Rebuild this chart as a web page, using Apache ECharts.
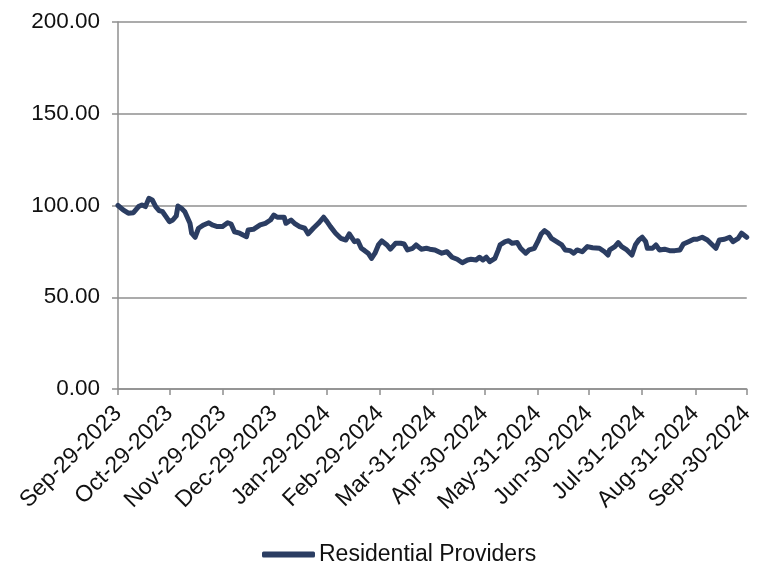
<!DOCTYPE html>
<html>
<head>
<meta charset="utf-8">
<script src="https://cdn.jsdelivr.net/npm/echarts@6/dist/echarts.min.js"></script>
<style>
  html, body { margin: 0; padding: 0; background: #fff; }
  #chart { width: 757px; height: 565px; }
</style>
</head>
<body>
<div id="chart"></div>
<script>
// Index level of the Residential Providers basket (start = 100)
const seriesName = 'Residential Providers';

const dates = [
  '2023-09-29','2023-10-02','2023-10-05','2023-10-08','2023-10-11','2023-10-13','2023-10-15','2023-10-17',
  '2023-10-19','2023-10-21','2023-10-23','2023-10-25','2023-10-27','2023-10-29','2023-10-31','2023-11-02',
  '2023-11-03','2023-11-05','2023-11-07','2023-11-08','2023-11-10','2023-11-11','2023-11-13','2023-11-14',
  '2023-11-15','2023-11-18','2023-11-21','2023-11-23','2023-11-26','2023-11-29','2023-12-02','2023-12-04',
  '2023-12-06','2023-12-09','2023-12-11','2023-12-13','2023-12-14','2023-12-17','2023-12-18','2023-12-21',
  '2023-12-24','2023-12-27','2023-12-29','2023-12-31','2024-01-01','2024-01-04','2024-01-05','2024-01-08',
  '2024-01-10','2024-01-13','2024-01-16','2024-01-18','2024-01-21','2024-01-24','2024-01-27','2024-01-29',
  '2024-01-31','2024-02-03','2024-02-06','2024-02-09','2024-02-11','2024-02-14','2024-02-16','2024-02-18',
  '2024-02-20','2024-02-22','2024-02-24','2024-02-26','2024-02-28','2024-03-01','2024-03-04','2024-03-06',
  '2024-03-09','2024-03-12','2024-03-14','2024-03-16','2024-03-19','2024-03-21','2024-03-24','2024-03-27',
  '2024-03-29','2024-04-01','2024-04-02','2024-04-05','2024-04-08','2024-04-11','2024-04-14','2024-04-17',
  '2024-04-20','2024-04-22','2024-04-25','2024-04-27','2024-04-29','2024-05-01','2024-05-03','2024-05-06',
  '2024-05-08','2024-05-09','2024-05-12','2024-05-14','2024-05-16','2024-05-19','2024-05-21','2024-05-24',
  '2024-05-26','2024-05-29','2024-05-31','2024-06-02','2024-06-04','2024-06-06','2024-06-08','2024-06-11',
  '2024-06-14','2024-06-16','2024-06-19','2024-06-21','2024-06-23','2024-06-26','2024-06-29','2024-07-02',
  '2024-07-06','2024-07-09','2024-07-11','2024-07-12','2024-07-15','2024-07-17','2024-07-19','2024-07-22',
  '2024-07-25','2024-07-27','2024-07-29','2024-07-31','2024-08-02','2024-08-03','2024-08-06','2024-08-08',
  '2024-08-10','2024-08-13','2024-08-16','2024-08-19','2024-08-22','2024-08-24','2024-08-27','2024-08-30',
  '2024-09-01','2024-09-04','2024-09-07','2024-09-10','2024-09-12','2024-09-14','2024-09-17','2024-09-20',
  '2024-09-22','2024-09-25','2024-09-27','2024-09-28','2024-09-30'
];

const values = [
  100.0, 97.6, 95.8, 96.1, 99.4, 100.3, 99.4, 103.9,
  103.0, 99.4, 97.2, 96.6, 93.9, 91.2, 92.1, 94.3,
  99.7, 98.5, 96.6, 95.8, 90.3, 84.9, 82.7, 83.4,
  87.6, 89.4, 90.6, 89.4, 88.5, 88.5, 90.6, 89.9,
  85.7, 84.9, 83.9, 83.0, 86.7, 87.0, 86.7, 89.4,
  90.3, 92.1, 94.8, 93.6, 93.9, 93.6, 90.3, 92.1,
  90.3, 88.5, 87.6, 84.5, 87.6, 90.3, 93.6, 91.2,
  88.5, 84.9, 82.1, 81.2, 84.5, 80.3, 80.8, 76.7,
  75.4, 74.0, 71.2, 74.0, 78.5, 80.7, 78.5, 76.2,
  79.4, 79.4, 79.0, 75.8, 76.7, 78.5, 76.2, 76.7,
  76.2, 75.8, 76.3, 74.0, 74.8, 71.8, 70.7, 68.8,
  70.3, 70.7, 70.3, 71.8, 70.3, 71.8, 69.4, 71.2,
  75.8, 78.5, 80.3, 80.8, 79.4, 79.8, 76.7, 74.0,
  75.8, 76.7, 80.3, 84.5, 86.3, 84.9, 82.1, 80.3,
  78.5, 75.8, 75.4, 74.0, 75.8, 74.8, 77.6, 77.0,
  76.7, 74.8, 73.0, 75.8, 77.6, 79.8, 77.6, 75.8,
  73.0, 78.5, 81.2, 82.7, 80.3, 76.7, 76.7, 78.5,
  75.8, 76.2, 75.4, 75.4, 75.8, 79.0, 80.3, 81.6,
  81.6, 82.7, 81.2, 78.5, 76.7, 81.2, 81.6, 82.7,
  80.3, 82.1, 84.9, 83.9, 82.7
];

// Dates that carry a tick and a label on the horizontal axis
const tickDates = [
  '2023-09-29','2023-10-29','2023-11-29','2023-12-29','2024-01-29','2024-02-29',
  '2024-03-31','2024-04-30','2024-05-31','2024-06-30','2024-07-31','2024-08-31','2024-09-30'
];

const yTicks = [0, 50, 100, 150, 200];

const MONTHS = ['Jan','Feb','Mar','Apr','May','Jun','Jul','Aug','Sep','Oct','Nov','Dec'];

// Dates are placed on a numeric axis as millisecond timestamps (UTC)
function toTime(s) {
  const p = s.split('-').map(Number);
  return Date.UTC(p[0], p[1] - 1, p[2]);
}
function fmtDate(t) {
  const d = new Date(t);
  const dd = String(d.getUTCDate()).padStart(2, '0');
  return MONTHS[d.getUTCMonth()] + '-' + dd + '-' + d.getUTCFullYear();
}

const FONT = '"Liberation Sans", Arial, Helvetica, sans-serif';
const GRID_GRAY = '#8f8f8f';
const LINE_COLOR = '#2b3d62';
const tickTimes = tickDates.map(toTime);

const chart = echarts.init(document.getElementById('chart'), null, { renderer: 'canvas' });

chart.setOption({
  animation: false,
  backgroundColor: '#ffffff',
  grid: { left: 118, right: 5, top: 22, bottom: 176, containLabel: false },
  legend: {
    data: [seriesName],
    left: 257,
    top: 538,
    icon: 'roundRect',
    itemWidth: 53,
    itemHeight: 6,
    itemGap: 10,
    textStyle: { fontFamily: FONT, fontSize: 23, color: '#111', padding: [0, 0, 0, -1] }
  },
  xAxis: {
    type: 'value',
    min: tickTimes[0],
    max: tickTimes[tickTimes.length - 1],
    axisLine: { show: true, onZero: false, lineStyle: { color: GRID_GRAY, width: 1.5 } },
    axisTick: {
      show: true,
      length: 6,
      customValues: tickTimes,
      lineStyle: { color: GRID_GRAY, width: 1.5 }
    },
    axisLabel: {
      customValues: tickTimes,
      formatter: (v) => fmtDate(v),
      rotate: 45,
      margin: 21,
      fontFamily: FONT,
      fontSize: 23,
      color: '#111',
      hideOverlap: false
    },
    splitLine: { show: false }
  },
  yAxis: {
    type: 'value',
    min: yTicks[0],
    max: yTicks[yTicks.length - 1],
    interval: 50,
    axisLine: { show: true, lineStyle: { color: GRID_GRAY, width: 1.5 } },
    axisTick: { show: true, length: 6, lineStyle: { color: GRID_GRAY, width: 1.5 } },
    axisLabel: {
      formatter: (v) => v.toFixed(2),
      margin: 18,
      fontFamily: FONT,
      fontSize: 22.5,
      color: '#111'
    },
    splitLine: { show: true, lineStyle: { color: GRID_GRAY, width: 1.5 } }
  },
  series: [{
    name: seriesName,
    type: 'line',
    data: dates.map((d, i) => [toTime(d), values[i]]),
    showSymbol: false,
    symbol: 'none',
    smooth: false,
    lineStyle: { color: LINE_COLOR, width: 5, join: 'round', cap: 'round' },
    itemStyle: { color: LINE_COLOR }
  }]
});
</script>
</body>
</html>
